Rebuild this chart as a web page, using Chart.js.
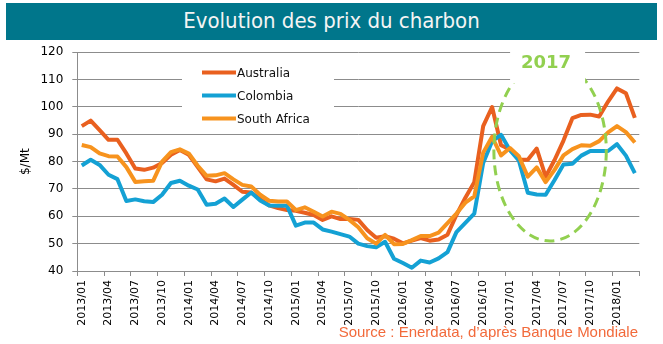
<!DOCTYPE html>
<html>
<head>
<meta charset="utf-8">
<script src="https://cdn.jsdelivr.net/npm/chart.js@4"></script>
<style>
  body { margin: 0; background: #fff; }
  #wrap { position: relative; width: 663px; height: 344px; }
  #titleBar {
    position: absolute; left: 6px; top: 3px; width: 651px; height: 37px;
    background: #00768b; color: #f4f4f4; text-align: center;
    font: 22px "DejaVu Sans Condensed", "DejaVu Sans", sans-serif; line-height: 36px;
  }
  canvas { position: absolute; left: 0; top: 0; }
</style>
</head>
<body>
<div id="wrap">
  <canvas id="myChart" width="663" height="344"></canvas>
  <div id="titleBar">Evolution des prix du charbon</div>
</div>
<script>
// months 2013/01 .. 2018/03
const months = [
  "2013/01", "2013/02", "2013/03", "2013/04", "2013/05", "2013/06", "2013/07", "2013/08", "2013/09", "2013/10", "2013/11", "2013/12",
  "2014/01", "2014/02", "2014/03", "2014/04", "2014/05", "2014/06", "2014/07", "2014/08", "2014/09", "2014/10", "2014/11", "2014/12",
  "2015/01", "2015/02", "2015/03", "2015/04", "2015/05", "2015/06", "2015/07", "2015/08", "2015/09", "2015/10", "2015/11", "2015/12",
  "2016/01", "2016/02", "2016/03", "2016/04", "2016/05", "2016/06", "2016/07", "2016/08", "2016/09", "2016/10", "2016/11", "2016/12",
  "2017/01", "2017/02", "2017/03", "2017/04", "2017/05", "2017/06", "2017/07", "2017/08", "2017/09", "2017/10", "2017/11", "2017/12",
  "2018/01", "2018/02", "2018/03",
];

const australia = [
  93, 95, 91.5, 88, 88, 83, 77.5, 77, 77.8, 79.5, 82.5, 84.3,
  82.5, 78, 73.5, 72.8, 73.8, 71.5, 69, 68.7, 66.3, 64, 63, 62.3,
  62, 61.3, 60.5, 58.7, 60, 59, 59, 58.7, 55, 52.2, 52.7, 51.8,
  50.1, 51.1, 52, 51.1, 51.5, 53.3, 60.5, 66.8, 72.5, 93, 100, 86,
  84.5, 80.7, 80.7, 84.8, 74.5, 80.6, 87.7, 95.9, 97.1, 97.2, 96.5, 102,
  106.8, 105, 96,
];

const colombia = [
  78.6, 80.7, 78.8, 75.2, 73.6, 65.6, 66.2, 65.5, 65.2, 67.9, 72.2, 73,
  71.2, 69.8, 64.2, 64.6, 66.5, 63.4, 66.1, 68.7, 65.8, 64, 63.9, 63.9,
  56.6, 57.7, 57.7, 55.2, 54.4, 53.5, 52.6, 50, 49.1, 48.7, 50.7, 44.5,
  42.9, 41.2, 43.8, 43.1, 44.6, 46.9, 54.2, 57.6, 61, 79.5, 87.5, 89.8,
  84.2, 80.4, 68.6, 68, 67.9, 73.3, 79, 79.2, 82.2, 83.9, 83.9, 83.9,
  86.4, 82.2, 75.8,
];

const southAfrica = [
  86.1, 85.3, 83, 82, 81.9, 78, 72.6, 72.8, 73, 80, 83.5, 84.5,
  83, 78.5, 74.8, 75, 75.8, 73.5, 71.5, 70.9, 67.9, 65.7, 65.4, 65.4,
  62.3, 63.3, 61.7, 59.9, 61.7, 60.9, 58.7, 56, 52, 50, 53.2, 49.8,
  49.9, 51.3, 52.8, 52.8, 54, 57.5, 61, 65, 67.3, 83.3, 89.1, 82.3,
  85, 82, 74.5, 77.9, 72.5, 77, 82.3, 84.6, 86, 85.8, 87.5, 90.7,
  93, 90.8, 87,
];

const gridGray = "#8c8c8c";

// legend drawn inside the plot, on a white box
const innerLegend = {
  id: "innerLegend",
  beforeDatasetsDraw(chart) {
    const { ctx } = chart;
    ctx.save();
    ctx.fillStyle = "#fff";
    ctx.fillRect(182, 56, 152, 74);
    const rows = [72.5, 95.5, 118.5];
    ctx.font = "12px 'DejaVu Sans'";
    ctx.textBaseline = "middle";
    chart.data.datasets.forEach((ds, i) => {
      ctx.strokeStyle = ds.borderColor;
      ctx.lineWidth = 4;
      ctx.beginPath();
      ctx.moveTo(202, rows[i]);
      ctx.lineTo(236, rows[i]);
      ctx.stroke();
      ctx.fillStyle = "#111";
      ctx.fillText(ds.label, 237, rows[i] + 1);
    });
    ctx.restore();
  },
};

// dashed ellipse around 2017 + source line
const notes = {
  id: "notes",
  afterDatasetsDraw(chart) {
    const { ctx, scales } = chart;
    const x = scales.x, y = scales.y;
    const cx = x.getPixelForValue(52.5);
    const rx = x.getPixelForValue(58.8) - cx;
    const cy = y.getPixelForValue(84);
    const ry = y.getPixelForValue(51) - cy;
    ctx.save();
    ctx.strokeStyle = "#92d050";
    ctx.lineWidth = 3;
    ctx.setLineDash([10, 6]);
    ctx.beginPath();
    ctx.ellipse(cx, cy, rx, ry, 0, 0, Math.PI * 2);
    ctx.stroke();
    ctx.setLineDash([]);
    ctx.fillStyle = "#fff";
    ctx.fillRect(cx - 40, 45, 75, 38);
    ctx.fillStyle = "#92d050";
    ctx.font = "bold 18px 'DejaVu Sans'";
    ctx.textAlign = "center";
    ctx.textBaseline = "middle";
    ctx.fillText("2017", cx - 4, 63);
    ctx.fillStyle = "#f26a3b";
    ctx.font = "15px 'Liberation Sans'";
    ctx.textAlign = "right";
    ctx.textBaseline = "alphabetic";
    ctx.fillText("Source : Enerdata, d\u2019apr\u00e8s Banque Mondiale", 638, 337);
    ctx.restore();
  },
};

var ctx = document.getElementById("myChart").getContext("2d");

var chart = new Chart(ctx, {
  type: "line",
  data: {
    labels: months,
    datasets: [
      { label: "Australia", data: australia, borderColor: "#e9601f", order: 3 },
      { label: "Colombia", data: colombia, borderColor: "#14a1d4", order: 2 },
      { label: "South Africa", data: southAfrica, borderColor: "#f7931e", order: 1 },
    ],
  },
  options: {
    responsive: false,
    animation: false,
    elements: {
      line: { borderWidth: 4, tension: 0, borderJoinStyle: "round", fill: false },
      point: { radius: 0 },
    },
    layout: { padding: { left: 15, right: 23.7, top: 52.3, bottom: 0 } },
    plugins: { legend: { display: false }, tooltip: { enabled: false } },
    scales: {
      x: {
        offset: true,
        afterFit(scale) { scale.height = 73; },
        grid: {
          offset: true,
          drawOnChartArea: false,
          tickLength: 5,
          color: (c) => (c.type === "scale" || c.index % 3 === 0 ? gridGray : "rgba(0,0,0,0)"),
        },
        border: { color: gridGray },
        ticks: {
          autoSkip: false,
          maxRotation: 90,
          minRotation: 90,
          padding: 4,
          color: "#000",
          font: { family: "DejaVu Sans", size: 11 },
          callback(value, index) { return index % 3 === 0 ? months[index] : ""; },
        },
      },
      y: {
        min: 40,
        max: 120,
        afterFit(scale) { scale.width = 62.3; },
        grid: { color: gridGray, tickLength: 5 },
        border: { color: gridGray },
        ticks: {
          stepSize: 10,
          padding: 9,
          color: "#000",
          font: { family: "DejaVu Sans", size: 12 },
        },
        title: {
          display: true,
          text: "$/Mt",
          color: "#000",
          font: { family: "DejaVu Sans", size: 12 },
        },
      },
    },
  },
  plugins: [innerLegend, notes],
});
</script>
</body>
</html>
